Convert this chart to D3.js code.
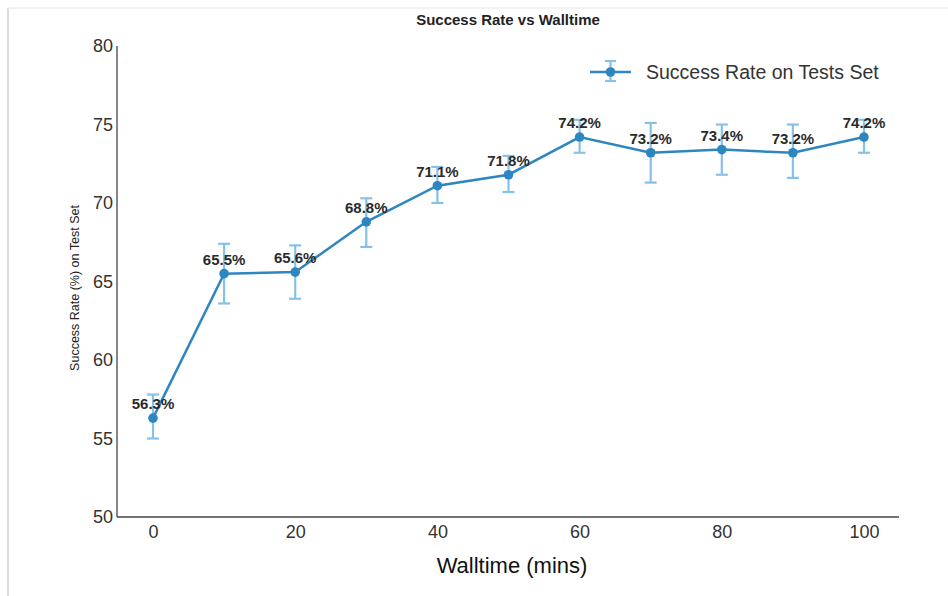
<!DOCTYPE html>
<html><head><meta charset="utf-8">
<script src="https://cdn.jsdelivr.net/npm/d3@7"></script>
<style>body{margin:0;background:#fff;}svg{display:block;font-family:"Liberation Sans",Arial,sans-serif;}</style>
</head><body>
<svg id="c" width="948" height="596"></svg>
<script>
const walltime = [0,10,20,30,40,50,60,70,80,90,100];
const successRate = [56.3,65.5,65.6,68.8,71.1,71.8,74.2,73.2,73.4,73.2,74.2];
const errLow = [55.0,63.6,63.9,67.2,70.0,70.7,73.2,71.3,71.8,71.6,73.2];
const errHigh = [57.8,67.4,67.3,70.3,72.3,73.0,75.3,75.1,75.0,75.0,75.3];
const xTicks = [0,20,40,60,80,100];
const yTicks = [50,55,60,65,70,75,80];

const svg = d3.select("#c");
svg.append("line").attr("x1",8).attr("x2",8).attr("y1",8).attr("y2",596).attr("stroke","#cfcfcf").attr("stroke-width",1.5);
svg.append("line").attr("x1",8).attr("x2",948).attr("y1",8).attr("y2",8).attr("stroke","#eeeeee").attr("stroke-width",1.5);

const L=117,R=899,T=46,B=517;
const x = d3.scaleLinear().domain([0,100]).range([153,864]);
const y = d3.scaleLinear().domain([50,80]).range([B,T]);

const xa = svg.append("g").attr("transform",`translate(0,${B})`)
  .call(d3.axisBottom(x).tickValues(xTicks).tickSize(0).tickPadding(8));
xa.select(".domain").attr("d",`M${L},0H${R}`).attr("stroke","#444").attr("stroke-width",1.3);
xa.selectAll("text").attr("font-size",18).attr("fill","#333").attr("font-family","Liberation Sans, Arial, sans-serif");

const ya = svg.append("g").attr("transform",`translate(${L},0)`)
  .call(d3.axisLeft(y).tickValues(yTicks).tickSize(0).tickPadding(4));
ya.select(".domain").attr("d",`M0,${T}V${B}`).attr("stroke","#444").attr("stroke-width",1.3);
ya.selectAll("text").attr("font-size",18).attr("fill","#333").attr("font-family","Liberation Sans, Arial, sans-serif");

svg.append("text").attr("x",508).attr("y",25).attr("text-anchor","middle")
  .attr("font-size",15).attr("font-weight","bold").attr("fill","#222").text("Success Rate vs Walltime");
svg.append("text").attr("x",512).attr("y",573).attr("text-anchor","middle")
  .attr("font-size",22).attr("fill","#111").text("Walltime (mins)");
svg.append("text").attr("transform","translate(79,288) rotate(-90)").attr("text-anchor","middle")
  .attr("font-size",12.5).attr("fill","#222").text("Success Rate (%) on Test Set");

const data = walltime.map((w,i)=>({w,v:successRate[i],lo:errLow[i],hi:errHigh[i]}));
const ebColor="#85c1e9", lineColor="#2e86c1";
const eb = svg.append("g");
data.forEach(d=>{
  const cx=x(d.w);
  eb.append("line").attr("x1",cx).attr("x2",cx).attr("y1",y(d.lo)).attr("y2",y(d.hi)).attr("stroke",ebColor).attr("stroke-width",2.2);
  [d.lo,d.hi].forEach(v=>eb.append("line").attr("x1",cx-6).attr("x2",cx+6).attr("y1",y(v)).attr("y2",y(v)).attr("stroke",ebColor).attr("stroke-width",2.2));
});
svg.append("path").datum(data).attr("fill","none").attr("stroke",lineColor).attr("stroke-width",2.5)
  .attr("d",d3.line().x(d=>x(d.w)).y(d=>y(d.v)));
svg.selectAll("circle.pt").data(data).join("circle").attr("class","pt")
  .attr("cx",d=>x(d.w)).attr("cy",d=>y(d.v)).attr("r",4.8).attr("fill",lineColor);
svg.selectAll("text.lbl").data(data).join("text").attr("class","lbl")
  .attr("x",d=>x(d.w)).attr("y",d=>y(d.v)-9).attr("text-anchor","middle")
  .attr("font-size",15).attr("font-weight","bold").attr("fill","#2b2b2b").text(d=>d.v.toFixed(1)+"%");

const lg = svg.append("g");
lg.append("line").attr("x1",590).attr("x2",631).attr("y1",72).attr("y2",72).attr("stroke",lineColor).attr("stroke-width",2.5);
lg.append("line").attr("x1",610.5).attr("x2",610.5).attr("y1",61).attr("y2",81).attr("stroke",ebColor).attr("stroke-width",2.2);
[61,81].forEach(v=>lg.append("line").attr("x1",605).attr("x2",616).attr("y1",v).attr("y2",v).attr("stroke",ebColor).attr("stroke-width",2.2));
lg.append("circle").attr("cx",610.5).attr("cy",72).attr("r",4.8).attr("fill",lineColor);
lg.append("text").attr("x",646).attr("y",79).attr("font-size",19.5).attr("fill","#333").text("Success Rate on Tests Set");
</script>
</body></html>
